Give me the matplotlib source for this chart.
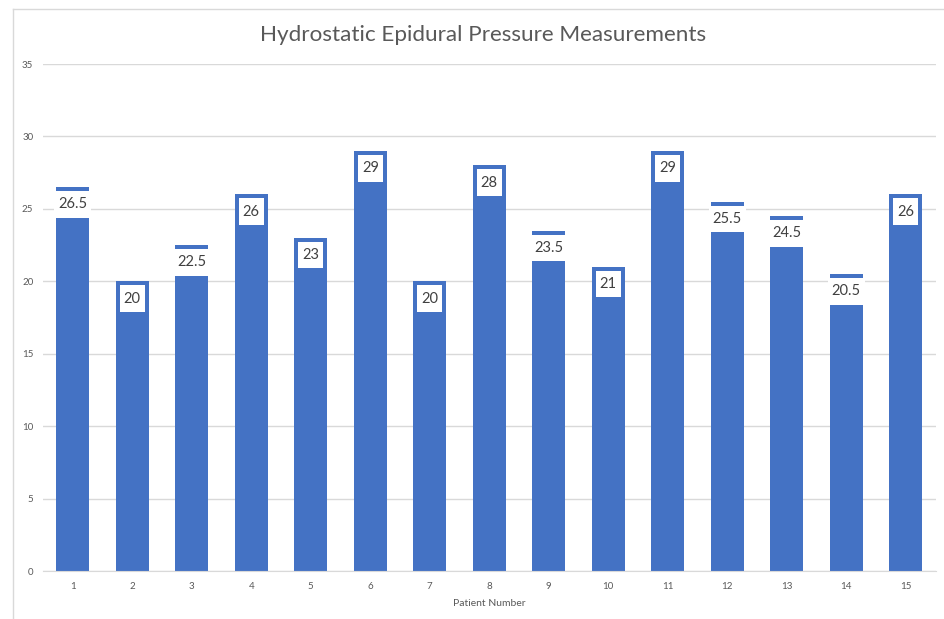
import matplotlib.pyplot as plt
from matplotlib.lines import Line2D

# data
patients = [str(i) for i in range(1, 16)]
pressure = [26.5, 20, 22.5, 26, 23, 29, 20, 28, 23.5, 21, 29, 25.5, 24.5, 20.5, 26]
yticks = [0, 5, 10, 15, 20, 25, 30, 35]

plt.rcParams['font.family'] = ['Lato', 'DejaVu Sans']

fig = plt.figure(figsize=(9.45, 6.19), dpi=100)
ax = fig.add_axes([0.0455, 0.0775, 0.9445, 0.8191])

x = list(range(1, len(patients) + 1))
ax.bar(x, pressure, width=0.55, color='#4472C4', zorder=2)

# data labels in white boxes at the inside end of each bar
for xi, v in zip(x, pressure):
    ax.annotate(f"{v:g}", (xi, v), xytext=(0, -7.4), textcoords='offset points',
                ha='center', va='top', fontsize=10.5, color='#404040', zorder=5,
                bbox=dict(boxstyle='square,pad=0.27', facecolor='white',
                          edgecolor='none', mutation_aspect=1.6))

ax.set_xlim(0.5, len(patients) + 0.5)
ax.set_ylim(0, 35)
ax.set_xticks(x)
ax.set_xticklabels(patients)
ax.set_yticks(yticks)
ax.tick_params(length=0, labelsize=7, labelcolor='#595959')
ax.tick_params(axis='y', pad=7)
ax.tick_params(axis='x', pad=8)
ax.grid(axis='y', color='#d9d9d9', linewidth=1)
ax.set_axisbelow(True)
for s in ['top', 'right', 'left']:
    ax.spines[s].set_visible(False)
ax.spines['bottom'].set_color('#d9d9d9')

ax.set_xlabel("Patient Number", fontsize=7.5, color='#595959', labelpad=6)
fig.text(0.511, 0.944, "Hydrostatic Epidural Pressure Measurements",
         ha='center', va='center', fontsize=16.2, color='#595959')

# chart area border
fig.add_artist(Line2D([13 / 945, 13 / 945], [0, 1 - 9 / 619], color='#d9d9d9', lw=1))
fig.add_artist(Line2D([13 / 945, 1], [1 - 9 / 619, 1 - 9 / 619], color='#d9d9d9', lw=1))

fig.savefig('out.png', dpi=100)
